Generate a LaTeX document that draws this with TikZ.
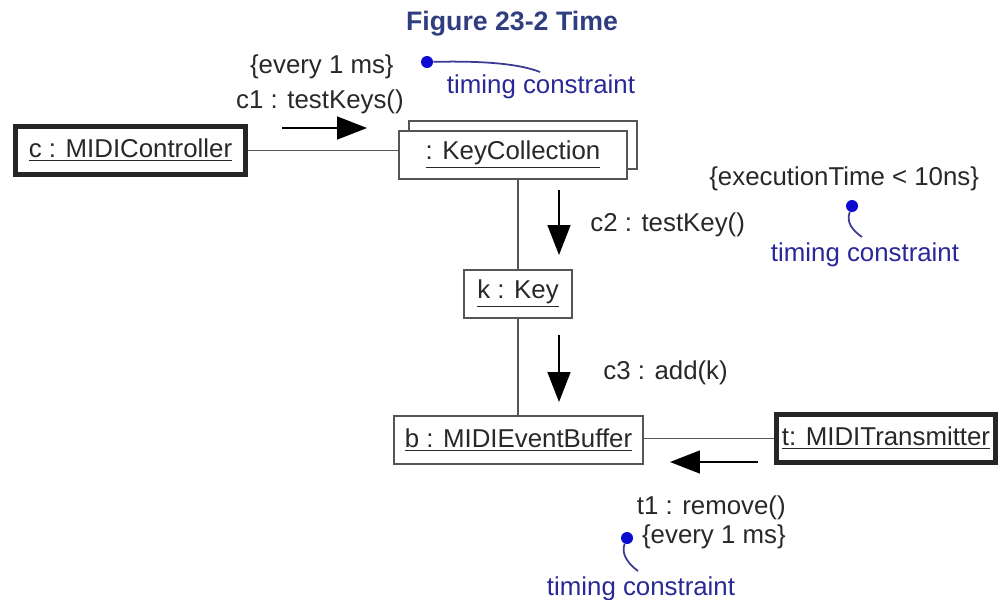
\documentclass[tikz,border=0pt]{standalone}
\usepackage{fontspec}
\setmainfont{Liberation Sans}
\usetikzlibrary{arrows.meta}

\definecolor{ink}{RGB}{40,40,40}
\definecolor{edge}{RGB}{85,85,85}
\definecolor{headblue}{RGB}{48,62,128}
\definecolor{noteblue}{RGB}{40,40,150}
\definecolor{dotblue}{RGB}{10,10,210}

\begin{document}
\begin{tikzpicture}[x=0.02cm, y=-0.02cm,
  every node/.style={font=\fontsize{14.7}{17}\selectfont, text=ink, inner sep=0pt},
  obj/.style={draw=edge, line width=1.1pt, fill=white, minimum height=48*\u},
  actobj/.style={draw=black!85, line width=3pt, fill=white, minimum height=48*\u},
  conn/.style={draw=edge, line width=1.1pt},
  msg/.style={draw=black, line width=1pt, -{Triangle[length=17pt, width=13pt]}},
  cdot/.style={circle, fill=dotblue, minimum size=12*\u},
  tether/.style={draw=noteblue!80!gray, line width=1pt},
  tnote/.style={text=noteblue}]
\def\u{0.02cm}
\useasboundingbox (0,0) rectangle (1000,599);

\node (title) [font=\fontsize{15.2}{18}\selectfont\bfseries, text=headblue] at (512,24) {Figure 23-2 Time};

% objects
\node (ctrl) [actobj, minimum width=230*\u] at (130.5,150.5) {\underline{c : MIDIController}};
\node (keysback) [obj, minimum width=228*\u] at (523,145) {};
\node (keys) [obj, minimum width=228*\u] at (513,155) {\underline{: KeyCollection}};
\node (key) [obj, minimum width=108*\u] at (518,294) {\underline{k : Key}};
\node (buf) [obj, minimum width=249*\u] at (518.5,440) {\underline{b : MIDIEventBuffer}};
\node (trans) [actobj, minimum width=219*\u] at (886,438.5) {\underline{t: MIDITransmitter}};

% links
\draw [conn] (ctrl.east) -- (ctrl.east -| keys.west);
\draw [conn] (key.north) -- (key.north |- keys.south);
\draw [conn] (key.south) -- (key.south |- buf.north);
\draw [conn] (trans.west) -- (trans.west -| buf.east);

% messages
\coordinate (c1s) at (282,128);
\coordinate (c1e) at (367,128);
\coordinate (c2s) at (559,190);
\coordinate (c2e) at (559,255);
\coordinate (c3s) at (559,335);
\coordinate (c3e) at (559,402);
\coordinate (t1s) at (758,462);
\coordinate (t1e) at (670,462);
\draw [msg] (c1s) -- (c1e);
\draw [msg] (c2s) -- (c2e);
\draw [msg] (c3s) -- (c3e);
\draw [msg] (t1s) -- (t1e);

\node (c1every) [anchor=east] at (394,67) {\{every 1 ms\}};
\node (c1lab) [anchor=east] at (404,102) {c1 : testKeys()};
\node (c2lab) [anchor=west] at (590,225) {c2 : testKey()};
\node (c3lab) [anchor=west] at (603,373) {c3 : add(k)};
\node (exec) [anchor=west] at (709,179) {\{executionTime < 10ns\}};
\node (t1lab) [anchor=east] at (786,508) {t1 : remove()};
\node (t1every) [anchor=east] at (786,537) {\{every 1 ms\}};

% timing constraints
\node (dot1) [cdot] at (427,62) {};
\coordinate (tail1) at (540,72);
\draw [tether] (dot1) .. controls (470,61) and (515,62) .. (tail1);
\node (note1) [tnote] at (541,87) {timing constraint};

\node (dot2) [cdot] at (852,206) {};
\coordinate (tail2) at (862,237);
\draw [tether] (dot2) .. controls (846,222) and (852,230) .. (tail2);
\node (note2) [tnote] at (865,255) {timing constraint};

\node (dot3) [cdot] at (627,538) {};
\coordinate (tail3) at (638,571);
\draw [tether] (dot3) .. controls (621,553) and (627,563) .. (tail3);
\node (note3) [tnote] at (641,589) {timing constraint};
\end{tikzpicture}
\end{document}
